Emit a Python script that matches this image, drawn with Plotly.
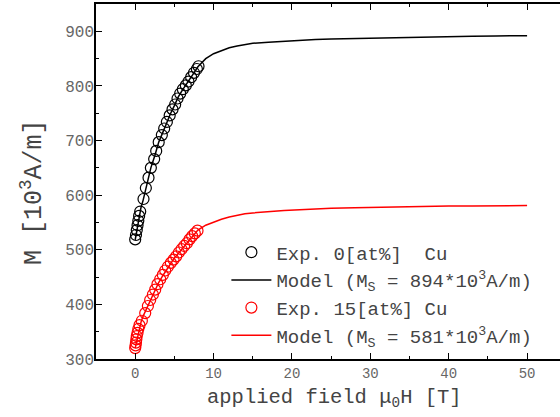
import plotly.graph_objects as go

# experimental data, 0 at% Cu
exp0_field = [0, 0.1, 0.2, 0.3, 0.4, 0.5, 0.64, 1.06, 1.36, 1.7, 2.0, 2.42, 2.68, 3.0,
              3.4, 3.7, 4.04, 4.4, 4.76, 5.1, 5.4, 5.74, 6.08, 6.46, 6.8, 7.14, 7.5,
              7.87, 8.08]
exp0_m = [519, 527, 536, 545, 553, 562, 570, 593, 613, 632, 650, 666, 681, 697,
          710, 722, 734, 746, 757, 766, 777, 786, 794, 801, 808, 816, 824, 831, 836]

# experimental data, 15 at% Cu
exp15_field = [0, 0.05, 0.1, 0.15, 0.2, 0.3, 0.4, 0.55, 0.85, 1.28, 1.62, 1.91, 2.26,
               2.55, 2.84, 3.19, 3.53, 3.83, 4.17, 4.55, 4.89, 5.23, 5.57, 5.91,
               6.25, 6.59, 6.93, 7.27, 7.61, 7.95]
exp15_m = [320, 325, 330, 336, 342, 348, 355, 362, 370, 384, 397, 408, 418, 427,
           437, 446, 454, 462, 469, 476, 482, 488, 495, 501, 507, 512, 519, 525,
           530, 535]

# model curves
model_field = [0, 0.25, 0.5, 0.75, 1, 1.5, 2, 2.5, 3, 3.5, 4, 4.5, 5, 5.5, 6, 6.5, 7,
               7.5, 8, 9, 10, 11, 12, 13, 14, 15, 17, 19, 21, 23, 25, 28, 31, 34,
               37, 40, 43, 46, 50]
model0_m = [518, 540, 562, 578, 590, 620, 650, 672, 697, 714, 733, 749, 764, 780, 792,
            802, 813, 824, 835, 850, 859, 865, 870, 873, 876, 878, 880, 882, 884,
            885, 886, 887, 888, 889, 890, 890.5, 891, 891.5, 892]
model15_m = [320, 338, 357, 368, 378, 393, 411, 425, 440, 452, 463, 475, 485, 493, 502,
             510, 520, 528, 536, 545, 551, 556, 560, 563, 566, 567.5, 570, 572, 573.5,
             575, 576, 577, 578, 579, 579.5, 580, 580.3, 580.6, 581]

FONT = "Liberation Mono, Courier New, monospace"
NB = "\u00a0"

fig = go.Figure()

fig.add_trace(go.Scatter(
    x=exp0_field, y=exp0_m, mode="markers",
    name=f"Exp.{NB}0[at%]{NB}{NB}Cu", legendgroup="a",
    marker=dict(symbol="circle-open", size=11, color="black", line=dict(width=1.2))
))
fig.add_trace(go.Scatter(
    x=model_field, y=model0_m, mode="lines",
    name=f"Model{NB}(M<sub>S</sub>{NB}={NB}894*10<sup>3</sup>A/m)", legendgroup="b",
    line=dict(color="black", width=1.5)
))
fig.add_trace(go.Scatter(
    x=exp15_field, y=exp15_m, mode="markers",
    name=f"Exp.{NB}15[at%]{NB}Cu", legendgroup="c",
    marker=dict(symbol="circle-open", size=11, color="#ff0000", line=dict(width=1.2))
))
fig.add_trace(go.Scatter(
    x=model_field, y=model15_m, mode="lines",
    name=f"Model{NB}(M<sub>S</sub>{NB}={NB}581*10<sup>3</sup>A/m)", legendgroup="d",
    line=dict(color="#ff0000", width=1.5)
))

fig.update_layout(
    width=560, height=417,
    margin=dict(l=96, r=0, t=4, b=58),
    plot_bgcolor="white", paper_bgcolor="white",
    font=dict(family=FONT, color="#444"),
    showlegend=True,
    legend=dict(
        x=0.281, y=0.354, xanchor="left", yanchor="top",
        bgcolor="rgba(0,0,0,0)", font=dict(size=19, color="#444"),
        tracegroupgap=0, itemwidth=40
    ),
)

# axis titles as annotations for exact placement
fig.add_annotation(
    text="applied field \u03bc<sub>0</sub>H [T]", xref="paper", yref="paper",
    x=0.515, y=-0.11, xanchor="center", yanchor="middle", showarrow=False,
    font=dict(size=20.5, color="#444")
)
fig.add_annotation(
    text=f"M{NB}[10<sup>3</sup>A/m]", xref="paper", yref="paper", textangle=-90,
    x=-0.136, y=0.47, xanchor="center", yanchor="middle", showarrow=False,
    font=dict(size=25, color="#444")
)

fig.update_xaxes(
    range=[-5, 54.2], showgrid=False, zeroline=False, automargin=False,
    showline=True, linecolor="black", linewidth=1.5, mirror="ticks",
    ticks="inside", ticklen=6, tickwidth=1.2, tickcolor="black",
    dtick=10, tick0=0,
    minor=dict(dtick=5, ticks="inside", ticklen=3.5, tickcolor="black", tickwidth=1.2),
    tickfont=dict(size=14, color="#666"),
)
fig.update_yaxes(
    range=[300, 950], showgrid=False, zeroline=False, automargin=False,
    showline=True, linecolor="black", linewidth=1.5,
    ticks="inside", ticklen=6, tickwidth=1.2, tickcolor="black",
    dtick=100, tick0=300, ticklabelstandoff=-3,
    minor=dict(dtick=50, ticks="inside", ticklen=3.5, tickcolor="black", tickwidth=1.2),
    tickfont=dict(size=16, color="#666"),
)

fig.write_html("out.html", config={"displayModeBar": False},
               post_script="document.body.style.margin='0px';")
